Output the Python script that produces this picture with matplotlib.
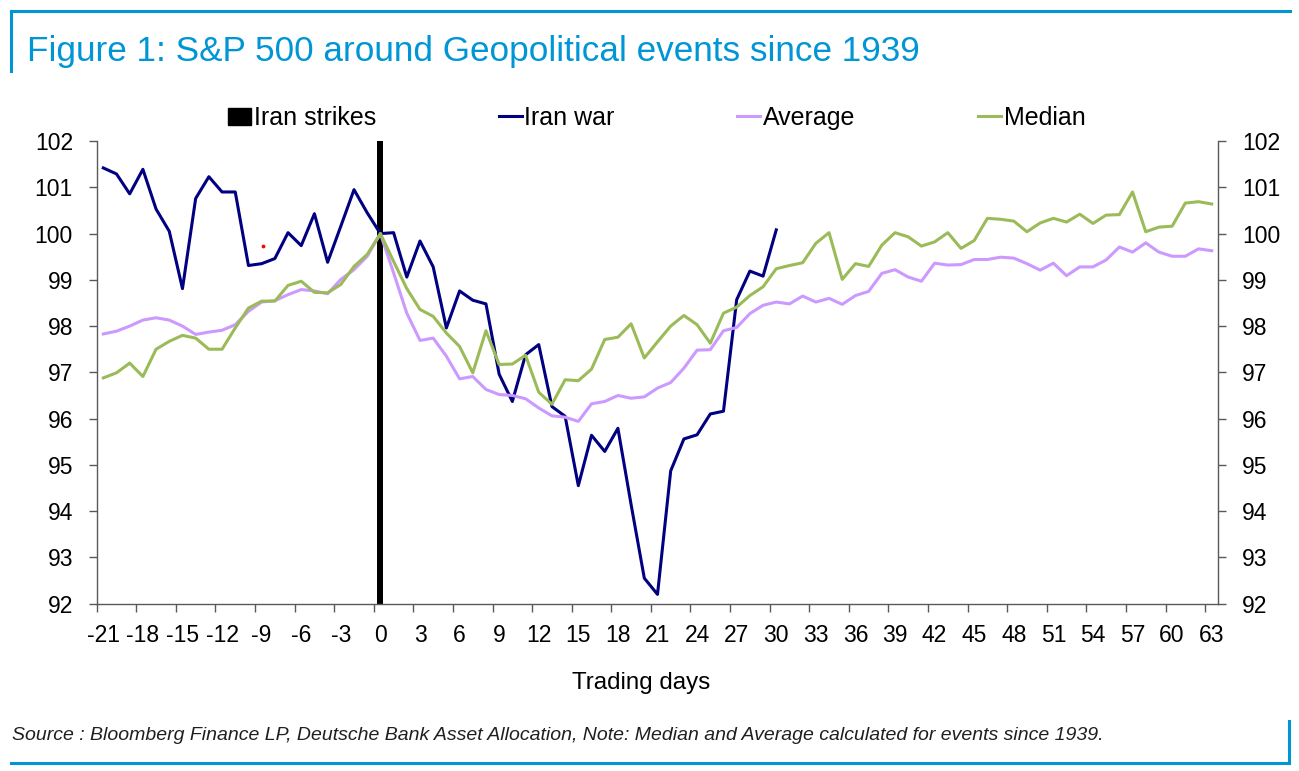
import numpy as np
import matplotlib
matplotlib.use("Agg")
import matplotlib.pyplot as plt
from matplotlib.lines import Line2D
from matplotlib.patches import Patch

plt.rcParams['font.family'] = ['Liberation Sans', 'DejaVu Sans']

# data
days_war = list(range(-21, 31))
iran_war = [101.42, 101.29, 100.86, 101.39, 100.53, 100.05, 98.81, 100.76, 101.23, 100.90,
            100.90, 99.31, 99.35, 99.46, 100.02, 99.74, 100.43, 99.38, 100.16, 100.95,
            100.45, 100.00, 100.02, 99.06, 99.84, 99.28, 97.96, 98.76, 98.56, 98.48,
            96.96, 96.37, 97.38, 97.60, 96.26, 96.05, 94.55, 95.64, 95.29, 95.79,
            94.14, 92.55, 92.20, 94.87, 95.56, 95.65, 96.10, 96.16, 98.57, 99.19,
            99.08, 100.08]

days = list(range(-21, 64))
average = [97.83, 97.89, 98.00, 98.13, 98.18, 98.13, 98.00, 97.82, 97.87, 97.91,
           98.03, 98.32, 98.52, 98.55, 98.68, 98.79, 98.76, 98.70, 99.01, 99.22,
           99.51, 100.00, 99.15, 98.28, 97.69, 97.74, 97.35, 96.86, 96.91, 96.63,
           96.52, 96.50, 96.43, 96.23, 96.06, 96.03, 95.94, 96.32, 96.37, 96.50,
           96.44, 96.47, 96.66, 96.78, 97.09, 97.48, 97.49, 97.90, 97.97, 98.27,
           98.45, 98.52, 98.48, 98.65, 98.52, 98.60, 98.47, 98.66, 98.75, 99.14,
           99.22, 99.06, 98.97, 99.36, 99.32, 99.33, 99.44, 99.44, 99.49, 99.47,
           99.35, 99.21, 99.36, 99.09, 99.28, 99.28, 99.43, 99.71, 99.60, 99.80,
           99.60, 99.51, 99.51, 99.67, 99.63]
median = [96.88, 96.99, 97.20, 96.91, 97.50, 97.67, 97.80, 97.74, 97.50, 97.50,
          97.96, 98.39, 98.54, 98.54, 98.88, 98.97, 98.73, 98.72, 98.90, 99.29,
          99.55, 100.00, 99.40, 98.81, 98.36, 98.21, 97.85, 97.56, 96.99, 97.90,
          97.17, 97.18, 97.37, 96.57, 96.31, 96.84, 96.82, 97.07, 97.71, 97.76,
          98.05, 97.31, 97.66, 98.00, 98.23, 98.03, 97.63, 98.28, 98.41, 98.66,
          98.85, 99.24, 99.31, 99.37, 99.79, 100.02, 99.01, 99.35, 99.29, 99.75,
          100.02, 99.93, 99.73, 99.82, 100.02, 99.68, 99.85, 100.33, 100.31, 100.27,
          100.04, 100.23, 100.33, 100.25, 100.42, 100.22, 100.40, 100.41, 100.90, 100.04,
          100.14, 100.16, 100.66, 100.69, 100.64]

strike_day = [0]
strike_top = [102]

stray_x = [-8.9]
stray_y = [99.73]

y_ticks = list(range(92, 103))
x_ticks = list(range(-21, 64, 3))

blue = '#0096d6'
axis_grey = '#595959'

W, H = 1299, 771
fig = plt.figure(figsize=(W / 100, H / 100), dpi=100)
ax = fig.add_axes([96.7 / W, 1 - 603.6 / H, 1121.6 / W, 462.5 / H])

ax.bar(strike_day, np.array(strike_top) - 92, bottom=92, width=0.45, color='black', zorder=2)
ax.plot(days_war, iran_war, color='#000080', lw=2.2, zorder=3)
ax.plot(days, average, color='#cc99ff', lw=2.2, zorder=4)
ax.plot(days, median, color='#9bbb59', lw=2.2, zorder=5)
ax.scatter(stray_x, stray_y, s=3, color='red', zorder=6)

ax.set_xlim(-21.5, 63.5)
ax.set_ylim(92, 102)

ax.set_xticks(x_ticks)
ax.set_xticks(np.arange(-21.5, 63, 3), minor=True)
ax.tick_params(axis='x', which='major', length=0, pad=15, labelsize=16.5)
ax.tick_params(axis='x', which='minor', length=5.8, width=1, color=axis_grey, direction='out')
ax.set_xticklabels([str(t) for t in x_ticks])

ax.set_yticks(y_ticks)
ax.tick_params(axis='y', length=5.8, width=1, color=axis_grey, direction='out',
               pad=11.3, labelsize=16.5, left=True, right=True, labelleft=True, labelright=True)

for side in ['left', 'right', 'bottom']:
    ax.spines[side].set_color(axis_grey)
    ax.spines[side].set_linewidth(1)
ax.spines['top'].set_visible(False)

handles = [Patch(facecolor='black', edgecolor='black'),
           Line2D([], [], color='#000080', lw=2.2),
           Line2D([], [], color='#cc99ff', lw=2.2),
           Line2D([], [], color='#9bbb59', lw=2.2)]
labels = ['Iran strikes', 'Iran war', 'Average', 'Median']
fig.legend(handles, labels, loc='center left', bbox_to_anchor=(228 / W, 1 - 118 / H),
           ncol=4, frameon=False, fontsize=18, handlelength=0.93, handletextpad=0.1,
           columnspacing=4.9, borderpad=0, borderaxespad=0)

fig.text(27.3 / W, 1 - 60.7 / H, 'Figure 1: S&P 500 around Geopolitical events since 1939',
         color=blue, fontsize=25.3, va='baseline', ha='left')
fig.text(641 / W, 1 - 689 / H, 'Trading days', fontsize=17.4, va='baseline', ha='center')
fig.text(12 / W, 1 - 740 / H,
         'Source : Bloomberg Finance LP, Deutsche Bank Asset Allocation, Note: Median and Average calculated for events since 1939.',
         fontsize=14, style='italic', color='#1f1f1f', va='baseline', ha='left')

# blue frame pieces
def px_line(x0, y0, x1, y1):
    fig.add_artist(Line2D([x0 / W, x1 / W], [1 - y0 / H, 1 - y1 / H],
                          transform=fig.transFigure, color=blue, lw=2.2, solid_capstyle='projecting'))

px_line(11.3, 11.3, 1290, 11.3)
px_line(11.3, 11.3, 11.3, 70.7)
px_line(11.3, 762.8, 1289, 762.8)
px_line(1289, 720.7, 1289, 762.8)

fig.savefig('out.png', dpi=100)
